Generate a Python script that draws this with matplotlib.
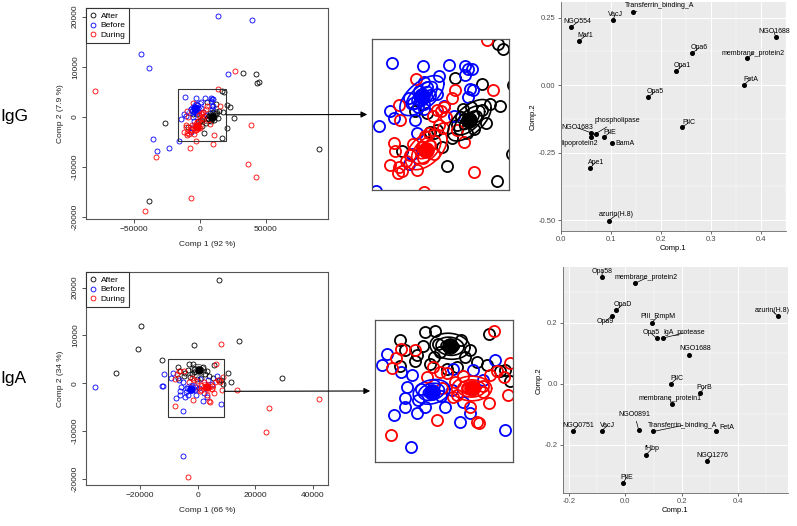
import numpy as np
import matplotlib.pyplot as plt
from matplotlib.patches import Rectangle, ConnectionPatch
from matplotlib.lines import Line2D

plt.rcParams['font.family'] = ['Liberation Sans', 'DejaVu Sans']

# ---------------- IgG scores (Comp 1 / Comp 2) ----------------
igg_after_x = [32800, 42900, 43400, 44900, 16860, 18190, 20700, 23000, 26000, 20500,
               16430, -26700, -38400, 90400, 5350, 12450, 17300, 14650, 3150, 4500,
               -8810, -1290, 480, -300, -5200, 7500, 9500, 11000, 12500, 8500,
               10500, 7000, 6000, -2200, 1800, 13500]
igg_after_y = [8690, 8490, 6700, 7030, 5210, 4860, 2390, 1990, -200, -2320,
               -4180, -1260, -16780, -6370, 2920, 2470, 980, 1100, -3150, -1200,
               -2120, -800, -680, -900, 610, 800, 900, 300, 700, -900,
               -600, 200, -300, 500, -1800, -200]
igg_before_x = [13400, 39600, -45200, -38900, 21000, -35600, -32300, -23500, -15700, -11470,
                -3230, 3760, 8010, 8890, 9790, 8000, 1100, 9340, 10250, 8800,
                -14760, -12020, -10780, -5200, -6800, -5900, -4600, -2100, -1200, -2800,
                500, -6000, -4700, -7000, 2500, 5000, -3000, -4200, -3900, -2900]
igg_before_y = [20160, 19370, 12470, 9820, 8490, -4440, -6830, -6230, -4850, 3900,
                3720, 3770, 3720, 3490, 3490, 3100, 3030, 2130, 2100, 1600,
                -370, 610, 150, 40, 1500, 1200, 900, 2300, 1700, 800,
                1800, -2300, -900, -3000, 1000, 300, 2600, 2000, 1400, 1100]
igg_during_x = [-79800, 26300, 39100, 36400, 42900, -33100, -7300, -2800, -7100, -41900,
                9600, 13900, -5040, -9630, -9190, -10960, -10500, -11840, -9600, -8700,
                -9800, -4770, 10420, 15550, 5390, 600, 1500, 2500, -500, 3000,
                1200, -5800, -6500, -1200, -200, -3200, -1600, 4500, 6000, 7800,
                -7600, 2200, -2500, -3500]
igg_during_y = [5170, 9210, -1660, -9350, -12000, -7960, -6230, -4900, -16120, -18840,
                -5370, 5510, 2830, 1070, 0, -1560, -2130, -3040, -3200, -3500,
                -3600, -3390, -3570, 2100, 2100, 700, 600, 900, 300, 200,
                -300, -1600, -2400, -1700, -2300, -2600, -900, 1500, -700, -1500,
                -2800, -500, -1100, -1800]
igg_center_x = [9190, -3450, -2300]
igg_center_y = [0, 1690, -2020]
igg_spread_x = [5760, 5850, 5500]
igg_spread_y = [1420, 1370, 1370]
igg_rho = [0.6, 0.6, 0.5]
igg_zoom = [-16700, 19700, -4780, 5570]

# ---------------- IgA scores ----------------
iga_after_x = [7340, -19650, -20800, -1200, 14250, -28500, -12600, 10340, 11380, 29240,
               -3240, -1840, -6750, 5660, -6050, -4400, -4650, -6750, -1180, 3050,
               1170, 3990, 5400, 7310, 7980, 8710, -240, -2590, -1500, 1800,
               -3500, 2400, -2000]
iga_after_y = [21600, 12060, 7090, 7930, 8840, 2170, 4770, 2170, 280, 990,
               4020, 4080, 3360, 3850, 2500, 2070, 1490, 1060, 2300, 2450,
               1020, 1450, 1160, 640, 730, -220, 870, 1300, 3000, 3300,
               2800, 1900, 1900]
iga_before_x = [-35700, -5120, -11600, -12280, -11940, -8610, -9270, -6590, -5080, -5790,
                -6120, -6120, -7670, -4470, -3300, -480, 1640, -5180, 7980, 2110,
                3050, 6570, 3520, 4930, 600, -2000, -3800, -1000, -4200, 500]
iga_before_y = [-700, -15300, 1900, -630, -630, 2160, 1160, 590, 300, -700,
                -1700, -2410, -3130, -2990, -2410, -2410, -3700, -5900, -4420, -1990,
                -2990, 1590, 730, -130, 870, -500, -900, -1500, -1800, -1000]
iga_during_x = [24640, 23490, -3390, 13670, 42040, 8030, -8000, -1650, 4000, 4360,
                5730, 8310, 3050, 700, 1260, -6590, -7380, -7900, -4700, -2120,
                -1180, -240, -3060, 4930, 5800, 6900, 7800, 8690, 930, 4930,
                6360, 2000, 2600, -900]
iga_during_y = [-5120, -10100, -19640, -1470, -3300, 8140, -4850, -3560, -3700, -3840,
                -2130, -1410, -2410, -1550, -1410, 2590, 1820, 930, 2500, 1020,
                590, 450, 160, -600, 300, 700, 150, 1310, -300, -1130,
                4080, 200, -800, -800]
iga_center_x = [228, -2360, 3280]
iga_center_y = [2790, -1130, -840]
iga_spread_x = [2800, 2580, 2800]
iga_spread_y = [1120, 1060, 1060]
iga_rho = [-0.1, 0.2, 0.0]
iga_zoom = [-10300, 9070, -7160, 5050]

groups = ['After', 'Before', 'During']
colors = ['black', 'blue', 'red']
levels = [1.0, 0.7, 0.45]

# ---------------- loadings ----------------
igg_names = ['NGO554', 'Maf1', 'VacJ', 'Transferrin_binding_A', 'NGO1688', 'Opa6',
             'membrane_protein2', 'Opa1', 'FetA', 'Opa5', 'PilC', 'NGO1683',
             'phospholipase', 'lipoprotein2', 'PilE', 'BamA', 'Ape1', 'azurin(H.8)']
igg_comp1 = [0.019, 0.036, 0.103, 0.144, 0.429, 0.262, 0.372, 0.230, 0.365, 0.174,
             0.242, 0.060, 0.069, 0.059, 0.086, 0.101, 0.058, 0.095]
igg_comp2 = [0.214, 0.164, 0.241, 0.269, 0.179, 0.118, 0.100, 0.052, 0.000, -0.044,
             -0.157, -0.177, -0.180, -0.192, -0.192, -0.216, -0.306, -0.502]
igg_dx = [0.014, 0.013, 0.005, 0.053, -0.003, 0.014, 0.013, 0.013, 0.014, 0.014,
          0.013, -0.028, 0.043, -0.022, 0.012, 0.027, 0.011, 0.015]
igg_dy = [0.020, 0.020, 0.019, 0.027, 0.020, 0.020, 0.018, 0.021, 0.022, 0.020,
          0.018, 0.019, 0.048, -0.024, 0.018, 0.0, 0.020, 0.021]

iga_names = ['Opa58', 'membrane_protein2', 'OpaD', 'Opa9', 'PIII_RmpM', 'azurin(H.8)',
             'Opa5', 'IgA_protease', 'NGO1688', 'PilC', 'PorB', 'membrane_protein1',
             'NGO0751', 'VacJ', 'NGO0891', 'Transferrin_binding_A', 'FetA', 'fHbp',
             'NGO1276', 'PilE']
iga_comp1 = [-0.084, 0.035, -0.033, -0.048, 0.094, 0.542, 0.111, 0.132, 0.228, 0.161,
             0.267, 0.164, -0.187, -0.084, 0.047, 0.099, 0.323, 0.073, 0.289, -0.009]
iga_comp2 = [0.348, 0.329, 0.240, 0.222, 0.200, 0.221, 0.149, 0.149, 0.094, 0.000,
             -0.030, -0.066, -0.153, -0.153, -0.150, -0.156, -0.153, -0.232, -0.251, -0.325]
iga_dx = [0.002, 0.040, 0.022, -0.025, 0.021, -0.019, -0.021, 0.076, 0.021, 0.021,
          0.014, -0.006, 0.019, 0.021, -0.014, 0.106, 0.039, 0.021, 0.019, 0.014]
iga_dy = [0.018, 0.017, 0.018, -0.020, 0.019, 0.017, 0.017, 0.017, 0.021, 0.017,
          0.019, 0.017, 0.017, 0.017, 0.048, 0.020, 0.011, 0.019, 0.016, 0.020]


def draw_scores(ax, xs, ys, cx, cy, sx, sy, rho, ms, mew, cms, elw):
    t = np.linspace(0, 2 * np.pi, 200)
    for i in range(3):
        ax.plot(xs[i], ys[i], 'o', mfc='none', mec=colors[i], ms=ms, mew=mew,
                linestyle='none', zorder=2)
    for i in range(3):
        for k in levels:
            ex = cx[i] + k * sx[i] * np.cos(t)
            ey = cy[i] + k * sy[i] * (rho[i] * np.cos(t) + np.sqrt(1 - rho[i] ** 2) * np.sin(t))
            ax.plot(ex, ey, color=colors[i], lw=elw, zorder=3)
        ax.plot(cx[i], cy[i], 'o', color=colors[i], ms=cms, zorder=4)


def r_axes(ax, xs, ys, xticks, yticks, xlab, ylab):
    allx = np.concatenate([np.array(v) for v in xs])
    ally = np.concatenate([np.array(v) for v in ys])
    px = 0.04 * (allx.max() - allx.min())
    py = 0.04 * (ally.max() - ally.min())
    ax.set_xlim(allx.min() - px, allx.max() + px)
    ax.set_ylim(ally.min() - py, ally.max() + py)
    ax.set_xticks(xticks)
    ax.set_yticks(yticks)
    ax.set_yticklabels([str(v) for v in yticks], rotation=90, va='center')
    ax.tick_params(direction='out', length=3, width=0.6, labelsize=6, pad=2,
                   color='#333333', labelcolor='#222222')
    for s in ax.spines.values():
        s.set_color('#555555')
        s.set_linewidth(0.8)
    ax.set_xlabel(xlab, fontsize=6, labelpad=6, color='#222222')
    ax.set_ylabel(ylab, fontsize=6, labelpad=6, color='#222222')
    handles = [Line2D([], [], marker='o', ls='none', mfc='none', mec=c, ms=3.5, mew=0.6)
               for c in colors]
    leg = ax.legend(handles, groups, loc='upper left', borderaxespad=0, fontsize=6,
                    handlelength=0.8, handletextpad=0.5, borderpad=0.45,
                    labelspacing=0.25, fancybox=False, framealpha=1)
    leg.get_frame().set_edgecolor('#333333')
    leg.get_frame().set_linewidth(0.8)


def zoom_panel(fig, ax_main, ax_in, zoom, arrow_y):
    x0, x1, y0, y1 = zoom
    ax_main.add_patch(Rectangle((x0, y0), x1 - x0, y1 - y0, fill=False,
                                ec='#333333', lw=0.8, zorder=5))
    ax_in.set_xlim(x0, x1)
    ax_in.set_ylim(y0, y1)
    ax_in.set_xticks([])
    ax_in.set_yticks([])
    for s in ax_in.spines.values():
        s.set_color('#555555')
        s.set_linewidth(0.9)
    con = ConnectionPatch(xyA=(x1, arrow_y), coordsA=ax_main.transData,
                          xyB=(-0.035, 0.5), coordsB=ax_in.transAxes,
                          arrowstyle='-|>', mutation_scale=9, lw=0.8, color='black')
    fig.add_artist(con)


def gg_panel(ax, x, y, names, dx, dy, xticks, yticks, xminor, yminor):
    ax.set_facecolor('#EBEBEB')
    px = 0.05 * (max(x) - min(x))
    py = 0.05 * (max(y) - min(y))
    ax.set_xlim(min(x) - px, max(x) + px)
    ax.set_ylim(min(y) - py, max(y) + py)
    ax.set_xticks(xticks)
    ax.set_yticks(yticks)
    ax.set_xticks(xminor, minor=True)
    ax.set_yticks(yminor, minor=True)
    ax.grid(which='major', color='white', lw=0.7)
    ax.grid(which='minor', color='white', lw=0.35)
    ax.set_axisbelow(True)
    ax.tick_params(which='major', length=2, width=0.5, labelsize=5.5, pad=1.5,
                   color='#333333', labelcolor='#4D4D4D')
    ax.tick_params(which='minor', length=0)
    for s in ['top', 'right']:
        ax.spines[s].set_visible(False)
    for s in ['left', 'bottom']:
        ax.spines[s].set_color('#666666')
        ax.spines[s].set_linewidth(0.6)
    ax.plot(x, y, 'o', color='black', ms=2.6, ls='none', zorder=3)
    for i, n in enumerate(names):
        ax.annotate(n, xy=(x[i], y[i]), xytext=(x[i] + dx[i], y[i] + dy[i]),
                    fontsize=5, ha='center', va='center', zorder=4,
                    arrowprops=dict(arrowstyle='-', lw=0.5, color='black',
                                    shrinkA=0, shrinkB=1.2))
    ax.set_xlabel('Comp.1', fontsize=5.5, labelpad=1.5)
    ax.set_ylabel('Comp.2', fontsize=5.5, labelpad=1.5)


fig = plt.figure(figsize=(7.97, 5.26), dpi=100)

ax1 = fig.add_axes([0.1079, 0.5837, 0.3036, 0.4011])
ax1_in = fig.add_axes([0.4668, 0.6388, 0.1719, 0.2871])
ax2 = fig.add_axes([0.1079, 0.0779, 0.3036, 0.4050])
ax2_in = fig.add_axes([0.4705, 0.1217, 0.1731, 0.2700])
ax3 = fig.add_axes([0.7033, 0.5608, 0.2829, 0.4354])
ax4 = fig.add_axes([0.7059, 0.0618, 0.2828, 0.4306])

igg_x = [igg_after_x, igg_before_x, igg_during_x]
igg_y = [igg_after_y, igg_before_y, igg_during_y]
iga_x = [iga_after_x, iga_before_x, iga_during_x]
iga_y = [iga_after_y, iga_before_y, iga_during_y]

draw_scores(ax1, igg_x, igg_y, igg_center_x, igg_center_y, igg_spread_x, igg_spread_y,
            igg_rho, 3.6, 0.6, 5, 0.4)
r_axes(ax1, igg_x, igg_y, [-50000, 0, 50000], [-20000, -10000, 0, 10000, 20000],
       'Comp 1 (92 %)', 'Comp 2 (7.9 %)')
draw_scores(ax1_in, igg_x, igg_y, igg_center_x, igg_center_y, igg_spread_x, igg_spread_y,
            igg_rho, 8, 1.3, 11, 1.2)
zoom_panel(fig, ax1, ax1_in, igg_zoom, 400)

draw_scores(ax2, iga_x, iga_y, iga_center_x, iga_center_y, iga_spread_x, iga_spread_y,
            iga_rho, 3.6, 0.6, 5, 0.4)
r_axes(ax2, iga_x, iga_y, [-20000, 0, 20000, 40000], [-20000, -10000, 0, 10000, 20000],
       'Comp 1 (66 %)', 'Comp 2 (34 %)')
draw_scores(ax2_in, iga_x, iga_y, iga_center_x, iga_center_y, iga_spread_x, iga_spread_y,
            iga_rho, 8, 1.3, 11, 1.2)
zoom_panel(fig, ax2, ax2_in, iga_zoom, -1700)

gg_panel(ax3, igg_comp1, igg_comp2, igg_names, igg_dx, igg_dy,
         [0.0, 0.1, 0.2, 0.3, 0.4], [-0.50, -0.25, 0.00, 0.25],
         [0.05, 0.15, 0.25, 0.35, 0.45], [-0.375, -0.125, 0.125])
ax3.set_xticklabels(['0.0', '0.1', '0.2', '0.3', '0.4'])
ax3.set_yticklabels(['-0.50', '-0.25', '0.00', '0.25'])
gg_panel(ax4, iga_comp1, iga_comp2, iga_names, iga_dx, iga_dy,
         [-0.2, 0.0, 0.2, 0.4], [-0.2, 0.0, 0.2],
         [-0.1, 0.1, 0.3, 0.5], [-0.3, -0.1, 0.1, 0.3])
ax4.set_xticklabels(['-0.2', '0.0', '0.2', '0.4'])
ax4.set_yticklabels(['-0.2', '0.0', '0.2'])

fig.text(0.001, 1 - 117 / 526, 'IgG', fontsize=12.5, ha='left', va='center')
fig.text(0.001, 1 - 378 / 526, 'IgA', fontsize=12.5, ha='left', va='center')

fig.savefig('out.png', dpi=100)
